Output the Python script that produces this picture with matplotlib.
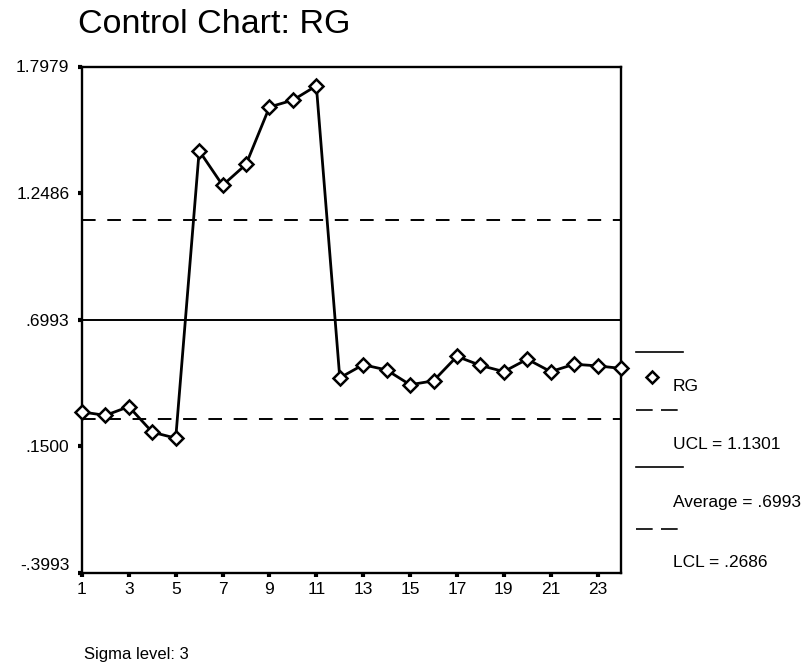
import matplotlib
matplotlib.use('Agg')
import matplotlib.pyplot as plt
from matplotlib.lines import Line2D

plt.rcParams['font.family'] = ['Liberation Sans', 'DejaVu Sans']

# RG value for each subgroup
samples = list(range(1, 25))
rg = [0.298, 0.283, 0.321, 0.210, 0.184, 1.432, 1.282, 1.373, 1.622, 1.652, 1.714,
      0.446, 0.503, 0.480, 0.416, 0.433, 0.539, 0.500, 0.473, 0.527, 0.473, 0.505,
      0.498, 0.487]

# control limits
ucl = 1.1301
average = 0.6993
lcl = 0.2686
sigma_level = 3

y_ticks = [-0.3993, 0.1500, 0.6993, 1.2486, 1.7979]
x_ticks = list(range(1, 24, 2))


def fmt(v):
    # SPSS style numbers: no leading zero
    s = f'{v:.4f}'
    return s.replace('-0.', '-.') if s.startswith('-0.') else (s[1:] if s.startswith('0.') else s)


W, H = 812, 667
fig = plt.figure(figsize=(W / 100, H / 100), dpi=100)


def px(x, y):
    # pixel position -> figure fraction
    return x / W, 1 - y / H


ax = fig.add_axes([82 / W, 1 - 572.5 / H, (621 - 82) / W, (572.5 - 66.5) / H])

ax.axhline(ucl, color='black', lw=1.4, dashes=(7, 6))
ax.axhline(average, color='black', lw=1.4)
ax.axhline(lcl, color='black', lw=1.4, dashes=(7, 6))
ax.plot(samples, rg, color='black', lw=2, marker='D', markersize=7,
        markerfacecolor='white', markeredgecolor='black', markeredgewidth=1.8,
        clip_on=False, zorder=5)

ax.set_xlim(1, 24)
ax.set_ylim(y_ticks[0], y_ticks[-1])
ax.set_xticks(x_ticks)
ax.set_xticklabels([str(t) for t in x_ticks])
ax.set_yticks(y_ticks)
ax.set_yticklabels([fmt(t) for t in y_ticks])
ax.tick_params(axis='both', direction='out', length=3, width=3, labelsize=12.5)
ax.tick_params(axis='y', pad=6)
ax.tick_params(axis='x', pad=4)
ax.get_yticklabels()[0].set_va('bottom')
for s in ax.spines.values():
    s.set_linewidth(1.7)

fig.text(*px(78, 33), 'Control Chart: RG', fontsize=24.5, ha='left', va='baseline')
fig.text(*px(84, 659), f'Sigma level: {sigma_level}', fontsize=12, ha='left', va='baseline')

# legend drawn to the right of the plot: line sample above each label
entries = [
    ('RG', 352, '-', 391),
    (f'UCL = {fmt(ucl)}', 410, '--', 449),
    (f'Average = {fmt(average)}', 467, '-', 507),
    (f'LCL = {fmt(lcl)}', 529, '--', 567),
]
for label, ly, style, ty in entries:
    x0, y0 = px(636, ly)
    x1, _ = px(683, ly)
    ln = Line2D([x0, x1], [y0, y0], transform=fig.transFigure, color='black', lw=1.2)
    if style == '--':
        ln.set_dashes((10, 5))
    fig.add_artist(ln)
    fig.text(*px(673, ty), label, fontsize=12.5, ha='left', va='baseline')

mx, my = px(652, 377)
fig.add_artist(Line2D([mx], [my], transform=fig.transFigure, marker='D', markersize=6,
                      markerfacecolor='white', markeredgecolor='black', markeredgewidth=1.8))

fig.savefig('out.png', dpi=100)
